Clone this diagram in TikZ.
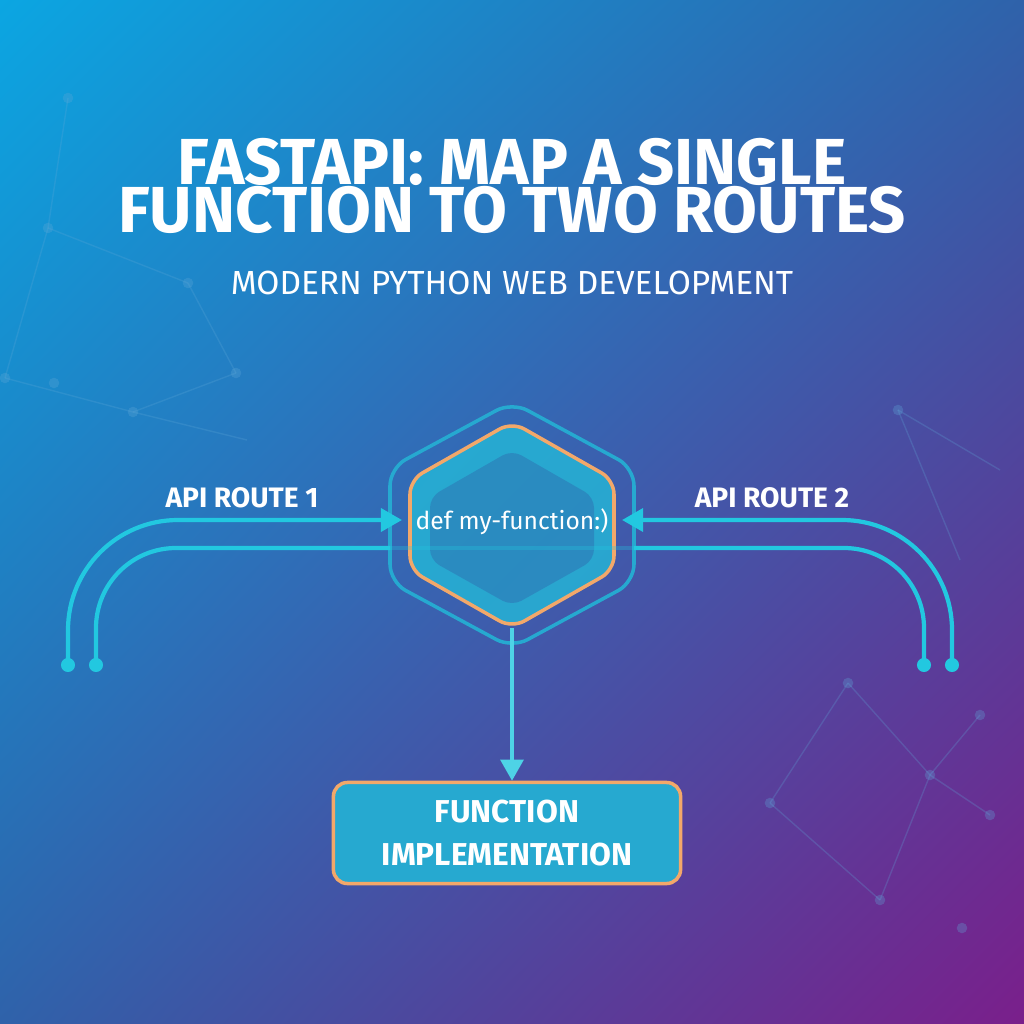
\documentclass[tikz,border=0pt]{standalone}
\usepackage{fontspec}
\setmainfont{Fira Sans}
\usetikzlibrary{positioning,arrows.meta,shadings}
\definecolor{bgcyan}{HTML}{0BA6E2}
\definecolor{bgmid}{HTML}{2F62AA}
\definecolor{bgpurple}{HTML}{7A1F8B}
\definecolor{route}{HTML}{22C8E0}
\definecolor{glow}{HTML}{F2A86A}
\definecolor{net}{HTML}{5FA8D8}
\tikzset{
  wire/.style={route, line width=1.2pt},
  tip/.style={-{Triangle[length=6pt,width=6.5pt]}},
  dot/.style={circle, fill=route, inner sep=0pt, minimum size=4pt},
  netline/.style={net, opacity=.25, line width=.4pt},
  netdot/.style={circle, fill=net, opacity=.3, inner sep=0pt, minimum size=3pt},
  lbl/.style={text=white, font=\bfseries\fontsize{8}{9}\selectfont},
}
\begin{document}
\begin{tikzpicture}[x=0.01cm,y=-0.01cm]
\useasboundingbox (0,0) rectangle (1024,1024);
\shade[upper left=bgcyan, upper right=bgmid, lower left=bgmid, lower right=bgpurple] (0,0) rectangle (1024,1024);
% faint network
\foreach \a/\b in {{68,98}/{48,228},{48,228}/{188,283},{48,228}/{5,378},{5,378}/{133,412},{188,283}/{236,373},{236,373}/{133,412},{133,412}/{247,440},{898,410}/{1000,470},{898,410}/{960,560},{848,683}/{930,775},{848,683}/{770,803},{930,775}/{990,815},{930,775}/{880,900},{770,803}/{880,900},{980,715}/{930,775}}
  \draw[netline] (\a) -- (\b);
\foreach \p in {{68,98},{48,228},{188,283},{5,378},{133,412},{236,373},{54,383},{898,410},{848,683},{930,775},{770,803},{990,815},{880,900},{980,715},{962,928}}
  \node[netdot] at (\p) {};
% titles
\node[white, font=\bfseries\fontsize{18.5}{13.5}\selectfont, align=center] (title) at (512,186) {FASTAPI: MAP A SINGLE\\FUNCTION TO TWO ROUTES};
\node[white, font=\fontsize{9.5}{11}\selectfont] (sub) at (512,283) {MODERN PYTHON WEB DEVELOPMENT};
% hexagon
\draw[route!70!bgmid, line width=1pt, rounded corners=5pt] (512,402) -- (634,468) -- (634,582) -- (512,648) -- (390,582) -- (390,468) -- cycle;
\fill[route!85!bgmid, opacity=.8, rounded corners=4pt] (512,422) -- (614,480) -- (614,570) -- (512,628) -- (410,570) -- (410,480) -- cycle;
\fill[bgmid, opacity=.4, rounded corners=3pt] (512,450) -- (594,497) -- (594,560) -- (512,606) -- (430,560) -- (430,497) -- cycle;
\draw[glow, line width=1pt, rounded corners=4pt] (512,422) -- (614,480) -- (614,570) -- (512,628) -- (410,570) -- (410,480) -- cycle;
\node[white, font=\fontsize{7}{8}\selectfont] (func) at (512,522) {def my-function:)};
\coordinate (hexW) at (402,520);
\coordinate (hexE) at (622,520);
\coordinate (hexS) at (512,628);
% box
\node[draw=glow, line width=1pt, fill=route!70!bgmid, rounded corners=4pt, minimum width=3.47cm, minimum height=1.01cm, align=center, lbl, font=\bfseries\fontsize{9}{12}\selectfont] (impl) at (507,833) {FUNCTION\\IMPLEMENTATION};
% routes
\coordinate (l1) at (68,665);
\coordinate (l2) at (96,665);
\coordinate (r1) at (952,665);
\coordinate (r2) at (924,665);
\draw[wire, tip] (l1) -- (68,630) arc[start angle=180, end angle=270, x radius=110, y radius=110] -- (hexW);
\draw[wire] (l2) -- (96,628) arc[start angle=180, end angle=270, x radius=80, y radius=80] -- (390,548);
\draw[route, opacity=.3, line width=1pt] (390,548) -- (634,548);
\draw[wire, tip] (r1) -- (952,630) arc[start angle=0, end angle=-90, x radius=110, y radius=110] -- (hexE);
\draw[wire] (r2) -- (924,628) arc[start angle=0, end angle=-90, x radius=80, y radius=80] -- (634,548);
\foreach \c in {l1,l2,r1,r2}
  \node[dot] at (\c) {};
\node[lbl] (route1) at (242,498) {API ROUTE 1};
\node[lbl] (route2) at (772,498) {API ROUTE 2};
\draw[route!80!white, line width=1pt, tip] (hexS) -- (impl.north -| hexS);
\end{tikzpicture}
\end{document}
